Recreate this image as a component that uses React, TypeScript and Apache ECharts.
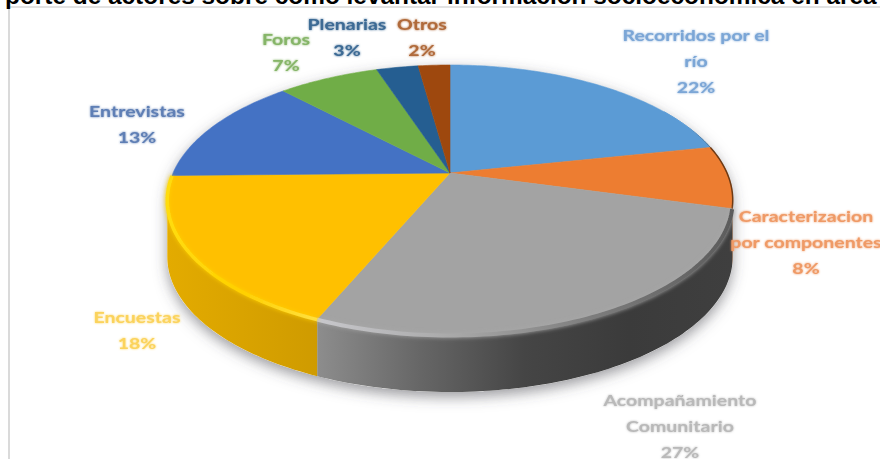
import React, { useEffect, useRef } from "react";
import * as echarts from "echarts";

const categories = ["Recorridos por el\nrío", "Caracterizacion\npor componentes", "Acompañamiento\nComunitario", "Encuestas", "Entrevistas", "Foros", "Plenarias", "Otros"];
const values = [21.7, 7.5, 27.2, 18.3, 13.2, 7.0, 2.9, 2.2];
const titleText = "porte de actores sobre cómo levantar información socioeconómica en área";

const topColors = ["#5b9bd5", "#ed7d31", "#a3a3a3", "#ffc000", "#4472c4", "#70ad47", "#255e91", "#9e480e"];
const labelColors = ["#7ba6d6", "#ef9a66", "#b9b9b9", "#fbd35c", "#5f7fb5", "#86b568", "#3c6a94", "#b06a3a"];
const labelCenters: number[][] = [[696, 61], [806, 242], [680, 426], [137, 330], [137, 124], [286, 52], [347, 37], [422, 37]];

const CX = 450, CY = 173, A = 277, B = 129.6, K = 0.2, DEPTH = 57;
const project = (th: number, dy = 0): number[] => {
  const u = Math.sin(th), v = -Math.cos(th), w = 1 - K * v;
  return [CX + (A * u) / w, CY + (B * v) / w + dy];
};
const VIS_START = Math.PI - Math.acos(K), VIS_END = Math.PI + Math.acos(K);
const total = values.reduce((s, x) => s + x, 0);
const arc = (a: number, b: number, dy = 0) => {
  const n = Math.max(2, Math.ceil((b - a) / 0.02));
  const p: number[][] = [];
  for (let i = 0; i <= n; i++) p.push(project(a + ((b - a) * i) / n, dy));
  return p;
};
const grad = (stops: string[]) => new echarts.graphic.LinearGradient(0, 0, 1, 0, stops.map((color, i) => ({ offset: i / (stops.length - 1), color })));

const sideFills: Record<number, string[]> = {
  1: ["#5a2c0c", "#5a2c0c"],
  2: ["#8d8d8d", "#666666", "#454545", "#3b3b3b", "#3f3f3f"],
  3: ["#e3ab00", "#d9a300", "#cf9b00"],
};
const lipStyles: Record<number, { stops: string[]; width: number }> = {
  0: { stops: ["#5b9bd5", "#5b9bd5", "#4a6f8f"], width: 1 },
  1: { stops: ["#6e3a14", "#6e3a14"], width: 1.5 },
  2: { stops: ["#c8c8cc", "#a8a8a8", "#7c7c7c", "#5c5c5c"], width: 4 },
  3: { stops: ["#ffdc10", "#ffd000", "#ffe040"], width: 3.5 },
};

export default function App() {
  const ref = useRef<HTMLDivElement>(null);
  useEffect(() => {
    document.body.style.margin = "0";
    const chart = echarts.init(ref.current!, undefined, { renderer: "svg" });
    let cum = 0;
    const ranges = values.map((x) => {
      const a = (cum / total) * 2 * Math.PI;
      cum += x;
      return [a, (cum / total) * 2 * Math.PI];
    });
    const renderSlice = (_: any, api: any) => {
      const i = api.value(0) as number;
      const [a, b] = ranges[i];
      const children: any[] = [];
      const s = Math.max(a, VIS_START), e = Math.min(b, VIS_END);
      if (s < e && sideFills[i]) {
        const pts = [...arc(s, e), ...arc(s, e, DEPTH).reverse()];
        children.push({ type: "polygon", shape: { points: pts }, style: { fill: grad(sideFills[i]), stroke: null } });
      }
      const c = topColors[i];
      children.push({
        type: "polygon",
        shape: { points: [[CX, CY], ...arc(a, b)] },
        style: { fill: c, stroke: c, lineWidth: 0.6 },
      });
      return { type: "group", children };
    };
    const renderLips = (_: any, api: any) => {
      const i = api.value(0) as number;
      const lip = lipStyles[i];
      if (!lip) return { type: "group", children: [] };
      const [a, b] = ranges[i];
      const s = i === 0 ? a + (b - a) * 0.75 : a;
      const pts = arc(s, b).map((p) => [p[0], p[1] + (i >= 2 ? 0.5 : 0)]);
      return {
        type: "polyline",
        shape: { points: pts },
        style: {
          fill: null,
          stroke: grad(lip.stops),
          lineWidth: lip.width,
          shadowBlur: i >= 2 ? 4 : 0,
          shadowColor: lip.stops[1],
        },
      };
    };
    const renderShadow = () => ({
      type: "polygon",
      shape: { points: arc(VIS_START, VIS_END, DEPTH).concat(arc(VIS_END, VIS_START + 2 * Math.PI)) },
      style: { fill: "#ffffff", shadowBlur: 14, shadowColor: "rgba(70,70,80,0.55)", shadowOffsetY: 5 },
    });
    const dataIdx = values.map((v, i) => [i, v]);
    chart.setOption({
      animation: false,
      backgroundColor: "#ffffff",
      title: {
        text: titleText,
        left: 0,
        top: -22,
        textStyle: { fontFamily: "Liberation Sans", fontWeight: "bold", fontSize: 24.4, color: "#000000" },
      },
      series: [
        { type: "custom", coordinateSystem: "none", silent: true, data: [[0]], renderItem: renderShadow, z: 1 },
        { type: "custom", coordinateSystem: "none", silent: true, data: dataIdx, renderItem: renderSlice, z: 2 },
        { type: "custom", coordinateSystem: "none", silent: true, data: dataIdx, renderItem: renderLips, z: 3 },
      ],
      graphic: [
        { type: "rect", shape: { x: 8, y: 6, width: 2, height: 453 }, style: { fill: "#dadada" }, silent: true },
        { type: "rect", shape: { x: 8, y: 6, width: 872, height: 2 }, style: { fill: "#e2e2e2" }, silent: true },
        ...categories.map((name, i) => ({
          type: "text",
          x: labelCenters[i][0],
          y: labelCenters[i][1],
          scaleX: 1.22,
          silent: true,
          z: 10,
          style: {
            text: `${name}\n${Math.round(values[i])}%`,
            fill: labelColors[i],
            font: "bold 16px Lato",
            lineHeight: 26,
            align: "center",
            verticalAlign: "middle",
            textShadowBlur: 2,
            textShadowColor: labelColors[i],
          },
        })),
      ],
    });
    return () => chart.dispose();
  }, []);
  return <div ref={ref} style={{ position: "fixed", left: 0, top: 0, width: 880, height: 459 }} />;
}
